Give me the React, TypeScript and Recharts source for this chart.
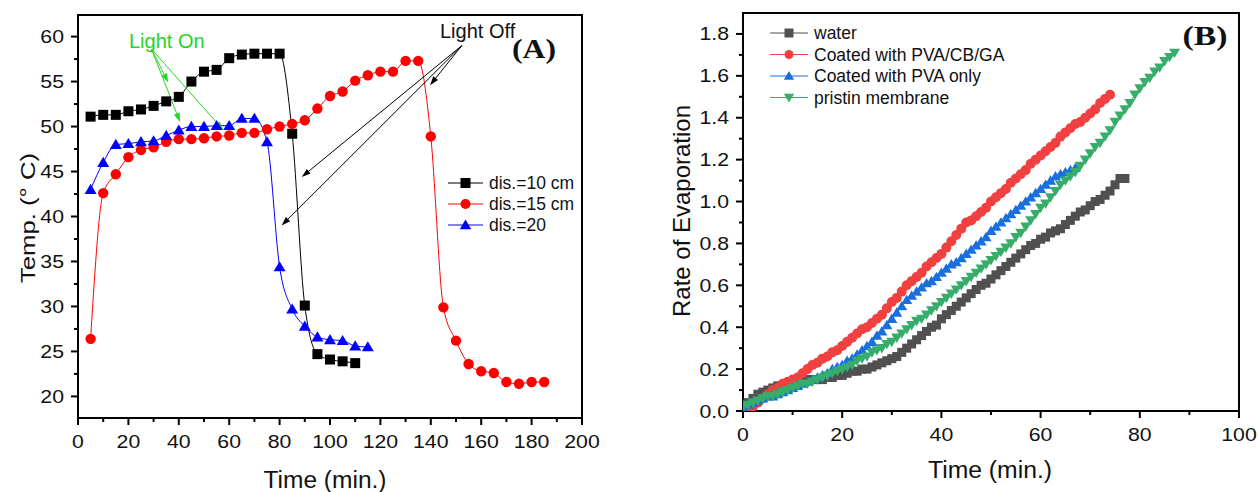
import React from 'react';
import { LineChart, Line, XAxis, YAxis, ReferenceArea, ReferenceLine } from 'recharts';

const FONT = '"Liberation Sans", Arial, sans-serif';
const SERIF = '"Liberation Serif", "Times New Roman", serif';

// (A) temperature vs time
const timeA = [5, 10, 15, 20, 25, 30, 35, 40, 45, 50, 55, 60, 65, 70, 75, 80, 85, 90, 95, 100, 105, 110, 115, 120, 125, 130, 135, 140, 145, 150, 155, 160, 165, 170, 175, 180, 185];
const temp10cm = [51.1, 51.3, 51.3, 51.7, 51.9, 52.3, 52.8, 53.3, 55.0, 56.1, 56.3, 57.6, 58.0, 58.1, 58.1, 58.1, 49.2, 30.1, 24.7, 24.1, 23.9, 23.7];
const temp15cm = [26.4, 42.6, 44.7, 46.6, 47.4, 47.7, 48.3, 48.6, 48.6, 48.7, 48.9, 49.0, 49.3, 49.3, 49.7, 50.0, 50.3, 50.7, 52.0, 53.4, 53.9, 55.1, 55.7, 56.1, 56.1, 57.3, 57.3, 48.9, 29.9, 26.2, 23.6, 22.8, 22.6, 21.6, 21.4, 21.6, 21.6];
const temp20 = [43.0, 46.0, 48.0, 48.1, 48.3, 48.4, 49.0, 49.6, 50.0, 50.0, 50.1, 50.1, 50.9, 50.9, 48.3, 34.4, 29.7, 27.8, 26.6, 26.3, 26.2, 25.6, 25.5];

const xTicksA = [0, 10, 20, 30, 40, 50, 60, 70, 80, 90, 100, 110, 120, 130, 140, 150, 160, 170, 180, 190, 200];
const yTicksA = [20, 22.5, 25, 27.5, 30, 32.5, 35, 37.5, 40, 42.5, 45, 47.5, 50, 52.5, 55, 57.5, 60];

// (B) rate of evaporation vs time
const minutesB = [0, 1, 2, 3, 4, 5, 6, 7, 8, 9, 10, 11, 12, 13, 14, 15, 16, 17, 18, 19, 20, 21, 22, 23, 24, 25, 26, 27, 28, 29, 30, 31, 32, 33, 34, 35, 36, 37, 38, 39, 40, 41, 42, 43, 44, 45, 46, 47, 48, 49, 50, 51, 52, 53, 54, 55, 56, 57, 58, 59, 60, 61, 62, 63, 64, 65, 66, 67, 68, 69, 70, 71, 72, 73, 74, 75, 76, 77, 78, 79, 80, 81, 82, 83, 84, 85, 86, 87];
const water = [0.02, 0.04, 0.06, 0.08, 0.09, 0.10, 0.11, 0.12, 0.12, 0.13, 0.13, 0.14, 0.14, 0.15, 0.15, 0.15, 0.15, 0.16, 0.16, 0.17, 0.17, 0.18, 0.19, 0.19, 0.20, 0.20, 0.21, 0.22, 0.23, 0.24, 0.25, 0.26, 0.28, 0.30, 0.32, 0.34, 0.36, 0.38, 0.40, 0.41, 0.44, 0.46, 0.48, 0.50, 0.52, 0.54, 0.56, 0.58, 0.60, 0.61, 0.63, 0.65, 0.67, 0.69, 0.71, 0.73, 0.75, 0.77, 0.79, 0.80, 0.82, 0.83, 0.85, 0.86, 0.87, 0.89, 0.91, 0.93, 0.95, 0.96, 0.98, 1.00, 1.01, 1.03, 1.05, 1.08, 1.11, 1.11];
const pvaCbGa = [0.00, 0.01, 0.02, 0.04, 0.06, 0.08, 0.10, 0.11, 0.13, 0.14, 0.15, 0.16, 0.18, 0.20, 0.22, 0.23, 0.25, 0.26, 0.28, 0.29, 0.31, 0.33, 0.35, 0.37, 0.39, 0.40, 0.42, 0.44, 0.46, 0.49, 0.52, 0.54, 0.57, 0.60, 0.62, 0.64, 0.66, 0.69, 0.71, 0.73, 0.75, 0.78, 0.81, 0.84, 0.87, 0.90, 0.91, 0.93, 0.95, 0.97, 1.00, 1.02, 1.04, 1.06, 1.09, 1.11, 1.13, 1.15, 1.18, 1.20, 1.22, 1.24, 1.26, 1.28, 1.31, 1.33, 1.35, 1.37, 1.38, 1.40, 1.42, 1.44, 1.47, 1.49, 1.51];
const pvaOnly = [0.02, 0.03, 0.04, 0.05, 0.06, 0.07, 0.07, 0.08, 0.09, 0.10, 0.11, 0.12, 0.13, 0.14, 0.15, 0.16, 0.17, 0.18, 0.20, 0.21, 0.22, 0.24, 0.25, 0.27, 0.29, 0.31, 0.33, 0.36, 0.38, 0.41, 0.44, 0.47, 0.50, 0.53, 0.55, 0.57, 0.59, 0.61, 0.62, 0.64, 0.66, 0.68, 0.70, 0.71, 0.73, 0.75, 0.77, 0.79, 0.81, 0.83, 0.86, 0.88, 0.90, 0.92, 0.94, 0.96, 0.98, 1.00, 1.02, 1.04, 1.06, 1.08, 1.10, 1.12, 1.13, 1.14, 1.15, 1.16];
const pristine = [0.02, 0.03, 0.04, 0.05, 0.06, 0.07, 0.07, 0.08, 0.09, 0.10, 0.11, 0.12, 0.13, 0.13, 0.14, 0.15, 0.16, 0.17, 0.18, 0.19, 0.20, 0.21, 0.22, 0.24, 0.25, 0.26, 0.28, 0.29, 0.30, 0.32, 0.33, 0.35, 0.37, 0.39, 0.41, 0.43, 0.44, 0.46, 0.48, 0.50, 0.52, 0.54, 0.56, 0.58, 0.60, 0.62, 0.64, 0.66, 0.68, 0.70, 0.72, 0.74, 0.76, 0.78, 0.80, 0.83, 0.85, 0.88, 0.91, 0.94, 0.97, 0.99, 1.02, 1.05, 1.08, 1.10, 1.12, 1.14, 1.17, 1.20, 1.23, 1.26, 1.28, 1.31, 1.34, 1.38, 1.41, 1.44, 1.47, 1.51, 1.54, 1.57, 1.59, 1.62, 1.64, 1.67, 1.69, 1.71];

const xTicksB = [0, 10, 20, 30, 40, 50, 60, 70, 80, 90, 100];
const yTicksB = [0, 0.1, 0.2, 0.3, 0.4, 0.5, 0.6, 0.7, 0.8, 0.9, 1.0, 1.1, 1.2, 1.3, 1.4, 1.5, 1.6, 1.7, 1.8];

const rows = (xs: number[], ys: number[]) => ys.map((v, i) => ({ t: xs[i], v }));

// the original figure's text is a little wider than plain Arial
const TICK_FS = 18.5;
const numWidth = (s: string) => s.split('').reduce((w, c) => w + (c === '.' ? 0.278 : 0.556), 0) * TICK_FS * 1.15;

type Kind = 'square' | 'circle' | 'up' | 'down';

function Marker({ kind, cx, cy, s, color }: { kind: Kind; cx: number; cy: number; s: number; color: string }) {
  if (kind === 'square') return <rect x={cx - s} y={cy - s} width={2 * s} height={2 * s} fill={color} />;
  if (kind === 'circle') return <circle cx={cx} cy={cy} r={s} fill={color} />;
  if (kind === 'up')
    return <polygon points={`${cx},${cy - s * 1.1} ${cx - s * 1.15},${cy + s * 0.85} ${cx + s * 1.15},${cy + s * 0.85}`} fill={color} />;
  return <polygon points={`${cx},${cy + s * 1.1} ${cx - s * 1.15},${cy - s * 0.85} ${cx + s * 1.15},${cy - s * 0.85}`} fill={color} />;
}

const dotOf = (kind: Kind, color: string, s: number) => (p: any) => {
  if (p.cx == null || p.cy == null) return <g key={`e${p.index}`} />;
  return <Marker key={`m${p.index}`} kind={kind} cx={p.cx} cy={p.cy} s={s} color={color} />;
};

const makeXTick = (isMajor: (v: number) => boolean) => (p: any) => {
  const { x, y, payload } = p;
  const major = isMajor(payload.value);
  const label = String(payload.value);
  return (
    <g>
      <line x1={x} y1={y} x2={x} y2={y + (major ? 7 : 4)} stroke="#000" strokeWidth={2} />
      {major && (
        <text x={x} y={y + 23} textAnchor="middle" dominantBaseline="central" fontFamily={FONT} fontSize={TICK_FS} fill="#111"
          textLength={numWidth(label)} lengthAdjust="spacingAndGlyphs">
          {label}
        </text>
      )}
    </g>
  );
};

const makeYTick = (isMajor: (v: number) => boolean, fmt: (v: number) => string) => (p: any) => {
  const { x, y, payload } = p;
  const major = isMajor(payload.value);
  const label = fmt(payload.value);
  return (
    <g>
      <line x1={x - (major ? 7 : 4)} y1={y} x2={x} y2={y} stroke="#000" strokeWidth={2} />
      {major && (
        <text x={x - 14} y={y} textAnchor="end" dominantBaseline="central" fontFamily={FONT} fontSize={TICK_FS} fill="#111"
          textLength={numWidth(label)} lengthAdjust="spacingAndGlyphs">
          {label}
        </text>
      )}
    </g>
  );
};

const arrowShape = (color: string) => (p: any) => {
  const { x1, y1, x2, y2 } = p;
  if ([x1, y1, x2, y2].some((v) => v == null || Number.isNaN(v))) return <g />;
  const a = Math.atan2(y2 - y1, x2 - x1);
  const L = 9;
  const W = 3;
  const bx = x2 - L * Math.cos(a);
  const by = y2 - L * Math.sin(a);
  const px = -Math.sin(a) * W;
  const py = Math.cos(a) * W;
  return (
    <g>
      <line x1={x1} y1={y1} x2={bx} y2={by} stroke={color} strokeWidth={1} />
      <polygon points={`${x2},${y2} ${bx + px},${by + py} ${bx - px},${by - py}`} fill={color} />
    </g>
  );
};

const lightOnFrom = { x: 29.2, y: 58.6 };
const lightOnTo = [
  { x: 35.8, y: 54.9 },
  { x: 40.5, y: 50.5 },
  { x: 57.7, y: 49.6 },
];
const lightOffFrom = { x: 152.3, y: 59.0 };
const lightOffTo = [
  { x: 139.7, y: 54.6 },
  { x: 88.8, y: 44.4 },
  { x: 80.8, y: 39.0 },
];

const GREEN = '#22d622';

const seriesA = [
  { name: 'dis.=10 cm', data: temp10cm, color: '#000000', kind: 'square' as Kind, s: 5 },
  { name: 'dis.=15 cm', data: temp15cm, color: '#ff0000', kind: 'circle' as Kind, s: 5.2 },
  { name: 'dis.=20', data: temp20, color: '#0000ff', kind: 'up' as Kind, s: 5.2 },
];

const seriesB = [
  { name: 'water', data: water, color: '#505050', kind: 'square' as Kind, s: 4.5 },
  { name: 'Coated with PVA/CB/GA', data: pvaCbGa, color: '#f14040', kind: 'circle' as Kind, s: 5 },
  { name: 'Coated with PVA only', data: pvaOnly, color: '#1a6fdf', kind: 'up' as Kind, s: 4.8 },
  { name: 'pristin membrane', data: pristine, color: '#37ad6b', kind: 'down' as Kind, s: 4.8 },
];

function PanelA() {
  return (
    <LineChart width={600} height={492} margin={{ top: 15, right: 18, bottom: 44, left: 18 }}>
      <XAxis
        type="number"
        dataKey="t"
        domain={[0, 200]}
        ticks={xTicksA}
        interval={0}
        height={30}
        tickSize={0}
        tickMargin={0}
        tickLine={false}
        axisLine={{ stroke: '#000', strokeWidth: 2 }}
        tick={makeXTick((v) => v % 20 === 0)}
        allowDataOverflow
      />
      <YAxis
        type="number"
        domain={[17.6, 62.4]}
        ticks={yTicksA}
        interval={0}
        width={60}
        tickSize={0}
        tickMargin={0}
        tickLine={false}
        axisLine={{ stroke: '#000', strokeWidth: 2 }}
        tick={makeYTick((v) => v % 5 === 0, (v) => String(v))}
        allowDataOverflow
      />
      <ReferenceArea x1={0} x2={200} y1={17.6} y2={62.4} fill="none" stroke="#000" strokeWidth={2} />
      {seriesA.map((s) => (
        <Line
          key={s.name}
          data={rows(timeA, s.data)}
          dataKey="v"
          name={s.name}
          type="monotone"
          stroke={s.color}
          strokeWidth={1}
          dot={dotOf(s.kind, s.color, s.s)}
          activeDot={false}
          isAnimationActive={false}
        />
      ))}
      {lightOnTo.map((p, i) => (
        <ReferenceLine key={`on${i}`} segment={[lightOnFrom, p]} shape={arrowShape(GREEN)} />
      ))}
      {lightOffTo.map((p, i) => (
        <ReferenceLine key={`off${i}`} segment={[lightOffFrom, p]} shape={arrowShape('#000')} />
      ))}
    </LineChart>
  );
}

function PanelB() {
  return (
    <LineChart width={618} height={492} margin={{ top: 13, right: 19, bottom: 51, left: 43 }}>
      <XAxis
        type="number"
        dataKey="t"
        domain={[0, 100]}
        ticks={xTicksB}
        interval={0}
        height={30}
        tickSize={0}
        tickMargin={0}
        tickLine={false}
        axisLine={{ stroke: '#000', strokeWidth: 2 }}
        tick={makeXTick((v) => v % 20 === 0)}
        allowDataOverflow
      />
      <YAxis
        type="number"
        domain={[0, 1.9]}
        ticks={yTicksB}
        interval={0}
        width={60}
        tickSize={0}
        tickMargin={0}
        tickLine={false}
        axisLine={{ stroke: '#000', strokeWidth: 2 }}
        tick={makeYTick((v) => Math.round(v * 10) % 2 === 0, (v) => v.toFixed(1))}
        allowDataOverflow
      />
      <ReferenceArea x1={0} x2={100} y1={0} y2={1.9} fill="none" stroke="#000" strokeWidth={2} />
      {seriesB.map((s) => (
        <Line
          key={s.name}
          data={rows(minutesB, s.data)}
          dataKey="v"
          name={s.name}
          type="linear"
          stroke={s.color}
          strokeWidth={1}
          dot={dotOf(s.kind, s.color, s.s)}
          activeDot={false}
          isAnimationActive={false}
        />
      ))}
    </LineChart>
  );
}

function LegendRows({ items, x, y0, gap, lineLen, fontSize, ms }: { items: typeof seriesA; x: number; y0: number; gap: number; lineLen: number; fontSize: number; ms: number }) {
  return (
    <g>
      {items.map((s, i) => {
        const y = y0 + i * gap;
        return (
          <g key={s.name}>
            <line x1={x} y1={y} x2={x + lineLen} y2={y} stroke={s.color} strokeWidth={1.2} />
            <Marker kind={s.kind} cx={x + lineLen / 2} cy={y} s={ms} color={s.color} />
            <text x={x + lineLen + 6} y={y} dominantBaseline="central" fontFamily={FONT} fontSize={fontSize} fill="#111">
              {s.name}
            </text>
          </g>
        );
      })}
    </g>
  );
}

export default function App() {
  return (
    <div style={{ position: 'absolute', left: 0, top: 0, width: 1258, height: 492, background: '#fff', fontFamily: FONT }}>
      <div style={{ position: 'absolute', left: 0, top: 0 }}>
        <PanelA />
      </div>
      <div style={{ position: 'absolute', left: 640, top: 0 }}>
        <PanelB />
      </div>
      <svg width={1258} height={492} style={{ position: 'absolute', left: 0, top: 0, pointerEvents: 'none' }}>
        <text transform="translate(27,218) rotate(-90)" textAnchor="middle" dominantBaseline="central" fontFamily={FONT} fontSize={21} fill="#111"
          textLength={130} lengthAdjust="spacingAndGlyphs">
          Temp. (° C)
        </text>
        <text x={325} y={488} textAnchor="middle" fontFamily={FONT} fontSize={23} fill="#111" textLength={123} lengthAdjust="spacingAndGlyphs">
          Time (min.)
        </text>
        <text transform="translate(681,211) rotate(-90)" textAnchor="middle" dominantBaseline="central" fontFamily={FONT} fontSize={24} fill="#111"
          textLength={212} lengthAdjust="spacingAndGlyphs">
          Rate of Evaporation
        </text>
        <text x={990} y={478} textAnchor="middle" fontFamily={FONT} fontSize={23} fill="#111" textLength={124} lengthAdjust="spacingAndGlyphs">
          Time (min.)
        </text>
        <text x={129} y={41} dominantBaseline="central" fontFamily={FONT} fontSize={20} fill={GREEN}>
          Light On
        </text>
        <text x={440} y={31} dominantBaseline="central" fontFamily={FONT} fontSize={20} fill="#111">
          Light Off
        </text>
        <text x={534} y={48} textAnchor="middle" dominantBaseline="central" fontFamily={SERIF} fontWeight="bold" fontSize={28}
          fill="#111" textLength={44} lengthAdjust="spacingAndGlyphs">
          (A)
        </text>
        <text x={1205} y={35} textAnchor="middle" dominantBaseline="central" fontFamily={SERIF} fontWeight="bold" fontSize={28}
          fill="#111" textLength={45} lengthAdjust="spacingAndGlyphs">
          (B)
        </text>
        <LegendRows items={seriesA} x={448} y0={183} gap={21} lineLen={35} fontSize={17.5} ms={5} />
        <LegendRows items={seriesB} x={770} y0={33} gap={21.5} lineLen={38} fontSize={17.5} ms={4.5} />
      </svg>
    </div>
  );
}
